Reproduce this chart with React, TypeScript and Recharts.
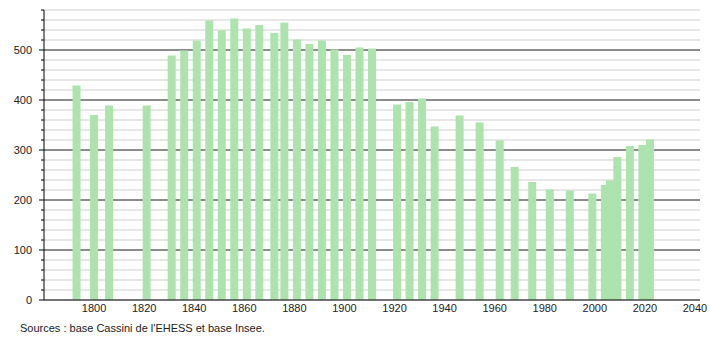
import React from "react";
import { BarChart, Bar, XAxis, YAxis, CartesianGrid } from "recharts";

// census years and population
const years = [
  1793, 1800, 1806, 1821, 1831, 1836, 1841, 1846, 1851, 1856, 1861, 1866, 1872, 1876, 1881, 1886,
  1891, 1896, 1901, 1906, 1911, 1921, 1926, 1931, 1936, 1946, 1954, 1962, 1968, 1975, 1982, 1990,
  1999, 2004, 2006, 2009, 2014, 2019, 2022,
];
const population = [
  429, 370, 389, 389, 489, 499, 519, 559, 539, 563, 543, 550, 534, 555, 521, 512,
  519, 501, 490, 505, 503, 391, 396, 403, 347, 369, 355, 319, 266, 236, 221, 219,
  213, 230, 239, 286, 308, 310, 321,
];

const xTicks = [1800, 1820, 1840, 1860, 1880, 1900, 1920, 1940, 1960, 1980, 2000, 2020, 2040];
const yMinor = [0, 20, 40, 60, 80, 100, 120, 140, 160, 180, 200, 220, 240, 260, 280, 300, 320, 340, 360, 380, 400, 420, 440, 460, 480, 500, 520, 540, 560, 580];
const yMajor = [100, 200, 300, 400, 500];

const data = years.map((y, i) => ({ year: y, pop: population[i] }));

const font = "'Liberation Sans', Arial, sans-serif";

const YTick = (props: any) => {
  const { x, y, payload } = props;
  const major = payload.value % 100 === 0;
  return (
    <g>
      <line x1={x - (major ? 5 : 3)} x2={x} y1={y} y2={y} stroke="#000" />
      {major && (
        <text x={x - 12} y={y} dy="0.35em" textAnchor="end" fontSize={11} fill="#222" fontFamily={font}>
          {payload.value}
        </text>
      )}
    </g>
  );
};

// fixed 8px wide bar centred on the census year
const WideBar = (props: any) => {
  const { x, y, width, height, fill } = props;
  const cx = x + width / 2;
  return <rect x={cx - 4} y={y} width={8} height={height} fill={fill} />;
};

export default function App() {
  return (
    <div style={{ position: "absolute", left: 0, top: 0, width: 710, height: 340, background: "#fff" }}>
      <BarChart width={710} height={340} data={data} margin={{ top: 10, right: 10, left: 0, bottom: 20 }}>
        <CartesianGrid vertical={false} stroke="#cfcfcf" horizontalValues={yMinor} />
        <CartesianGrid vertical={false} stroke="#333" horizontalValues={yMajor} />
        <XAxis
          dataKey="year"
          type="number"
          domain={[1780, 2042]}
          ticks={xTicks}
          allowDataOverflow
          height={20}
          tickLine={false}
          tickSize={0}
          tickMargin={4}
          stroke="#000"
          tick={{ fontSize: 11, fill: "#222", fontFamily: font }}
        />
        <YAxis
          domain={[0, 580]}
          ticks={yMinor}
          interval={0}
          width={44}
          tickLine={false}
          tickSize={0}
          tickMargin={0}
          stroke="#000"
          tick={<YTick />}
        />
        <Bar dataKey="pop" fill="#ade3ad" shape={<WideBar />} isAnimationActive={false} />
      </BarChart>
      <div style={{ position: "absolute", left: 20, top: 322, fontSize: 11, fontFamily: font, color: "#222" }}>
        Sources : base Cassini de l'EHESS et base Insee.
      </div>
    </div>
  );
}
